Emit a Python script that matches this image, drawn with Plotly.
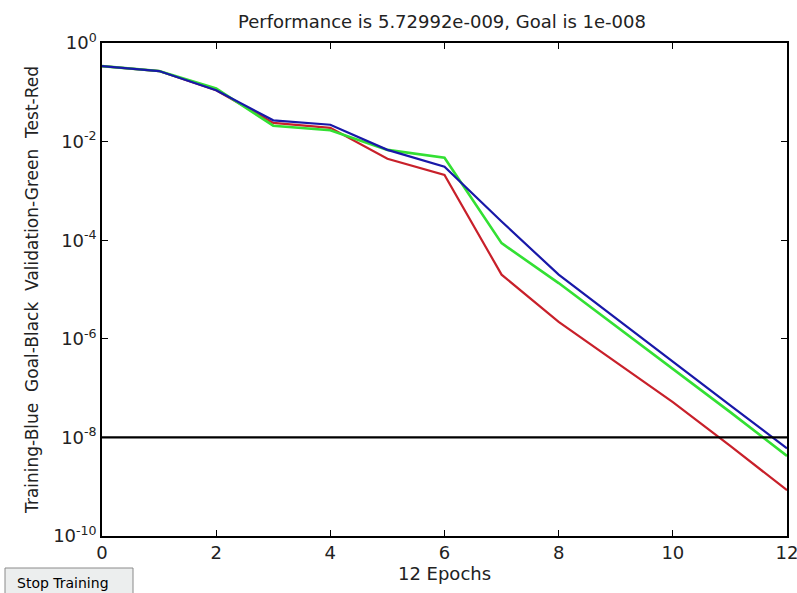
import plotly.graph_objects as go

epochs = [0, 1, 2, 3, 4, 5, 6, 7, 8, 9, 10, 11, 12]
training = [0.34, 0.27, 0.11, 0.027, 0.022, 0.0068, 0.0031, 2.4e-4, 2.0e-5, 2.6e-6, 3.4e-7, 4.5e-8, 6.0e-9]
validation = [0.34, 0.27, 0.12, 0.021, 0.017, 0.0068, 0.0047, 8.7e-5, 1.35e-5, 1.8e-6, 2.5e-7, 3.3e-8, 4.2e-9]
test = [0.34, 0.27, 0.11, 0.024, 0.019, 0.0045, 0.0021, 2.0e-5, 2.2e-6, 3.4e-7, 5.2e-8, 6.8e-9, 8.5e-10]
goal = 1e-8
goal_x = [0, 12]

yticks = [1, 1e-2, 1e-4, 1e-6, 1e-8, 1e-10]
ytext = ["10<sup>0</sup>", "10<sup>-2</sup>", "10<sup>-4</sup>", "10<sup>-6</sup>", "10<sup>-8</sup>", "10<sup>-10</sup>"]
xticks = [0, 2, 4, 6, 8, 10, 12]

FAM = "DejaVu Sans, Liberation Sans, sans-serif"
TXT = "#222"

fig = go.Figure()
fig.add_trace(go.Scatter(x=epochs, y=test, mode="lines", line=dict(color="#c8202a", width=2.2)))
fig.add_trace(go.Scatter(x=epochs, y=validation, mode="lines", line=dict(color="#33e033", width=2.6)))
fig.add_trace(go.Scatter(x=epochs, y=training, mode="lines", line=dict(color="#1818a8", width=2.2)))
fig.add_trace(go.Scatter(x=goal_x, y=[goal, goal], mode="lines", line=dict(color="black", width=2.2)))

fig.update_layout(
    width=797, height=593,
    margin=dict(l=102, r=10, t=43, b=57, autoexpand=False),
    paper_bgcolor="white", plot_bgcolor="white",
    showlegend=False,
    font=dict(family=FAM, size=17, color=TXT),
    title=dict(text="Performance is 5.72992e-009, Goal is 1e-008", x=442 / 797, xanchor="center",
               y=1 - 22 / 593, yanchor="middle", font=dict(family=FAM, size=18, color=TXT)),
    xaxis=dict(range=[0, 12], tickvals=xticks, ticks="inside", ticklen=6, tickcolor="black",
               showline=True, linecolor="black", linewidth=1.5, mirror="allticks", showgrid=False,
               zeroline=False, automargin=False, ticklabeloverflow="allow",
               title=dict(text="12 Epochs", standoff=5, font=dict(size=18)),
               tickfont=dict(size=18)),
    yaxis=dict(type="log", range=[-10, 0], tickvals=yticks, ticktext=ytext, ticks="inside", ticklen=6,
               tickcolor="black", showline=True, linecolor="black", linewidth=1.5, mirror="allticks",
               showgrid=False, zeroline=False, automargin=False, ticklabeloverflow="allow",
               tickfont=dict(size=18),
               title=dict(text="Training-Blue  Goal-Black  Validation-Green  Test-Red", standoff=10,
                          font=dict(size=17))),
)

# Stop Training button
fig.add_shape(type="rect", xref="paper", yref="paper",
              x0=(5 - 102) / 685, x1=(133 - 102) / 685,
              y0=(536 - 600) / 493, y1=(536 - 568) / 493,
              fillcolor="#eceeee", line=dict(color="#8a8a8a", width=1))
fig.add_annotation(xref="paper", yref="paper", x=(63 - 102) / 685, y=(536 - 583) / 493,
                   text="Stop Training", showarrow=False, xanchor="center", yanchor="middle",
                   font=dict(family=FAM, size=14, color="black"))

fig.write_html("out.html", config={"displayModeBar": False},
               post_script="document.body.style.margin='0';document.body.style.overflow='hidden';")
